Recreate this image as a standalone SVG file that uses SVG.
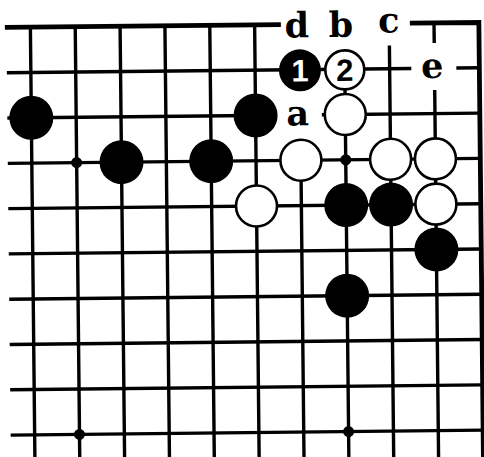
<svg xmlns="http://www.w3.org/2000/svg" width="484" height="457" viewBox="0 0 484 457">
<style>
.g{stroke:#000;stroke-width:3.4;fill:none;stroke-linecap:butt}
.edge{stroke:#000;stroke-width:4.8;fill:none;stroke-linejoin:miter}
.b{fill:#000}
.w{fill:#fff;stroke:#000;stroke-width:2.6}
.hoshi{fill:#000}
.lbl{font-family:"DejaVu Serif","Liberation Serif",serif;font-weight:bold;font-size:35px;fill:#000;text-anchor:middle}
.num{font-family:"Liberation Sans","DejaVu Sans",sans-serif;font-weight:bold;font-size:31px;text-anchor:middle}
</style>
<rect width="484" height="457" fill="#fff"/>
<g transform="rotate(-0.6 240 228)">
<g id="grid-lines">
<path class="edge" d="M7,25 H283 M412,25 H481 V470"/>
<path class="g" d="M32.5,25 V470 M77.35,25 V470 M122.2,25 V470 M167.05,25 V470 M211.9,25 V470 M256.75,25 V470 M301.6,160.9 V470 M346.45,70.3 V470 M391.3,47 V470 M436.15,25 V45 M436.15,92 V470"/>
<path class="g" d="M8.5,70.3 H413 M458,70.3 H481 M8.5,115.6 H278 M323,115.6 H481 M8.5,160.9 H481 M8.5,206.2 H481 M8.5,251.5 H481 M8.5,296.8 H481 M8.5,342.1 H481 M8.5,387.4 H481 M8.5,432.7 H481"/>
<circle class="hoshi" cx="77.35" cy="160.9" r="5.5"/>
<circle class="hoshi" cx="346.45" cy="160.9" r="5.5"/>
<circle class="hoshi" cx="77.35" cy="432.7" r="5.5"/>
<circle class="hoshi" cx="346.45" cy="432.7" r="5.5"/>
</g>
<g id="black-stones">
<g id="b1"><circle class="b" cx="32.5" cy="115.6" r="22"/></g>
<g id="b2"><circle class="b" cx="122.2" cy="160.9" r="22"/></g>
<g id="b3"><circle class="b" cx="211.9" cy="160.9" r="22"/></g>
<g id="b4"><circle class="b" cx="256.75" cy="115.6" r="22"/></g>
<g id="b5"><circle class="b" cx="346.45" cy="206.2" r="22"/></g>
<g id="b6"><circle class="b" cx="391.3" cy="206.2" r="22"/></g>
<g id="b7"><circle class="b" cx="436.15" cy="251.5" r="22"/></g>
<g id="b8"><circle class="b" cx="346.45" cy="296.8" r="22"/></g>
<g id="move1"><circle class="b" cx="301.6" cy="71" r="21"/><text class="num" x="301.6" y="82" fill="#fff">1</text></g>
</g>
<g id="white-stones">
<g id="w1"><circle class="w" cx="346.45" cy="115.6" r="20.5"/></g>
<g id="w2"><circle class="w" cx="301.6" cy="160.9" r="20.5"/></g>
<g id="w3"><circle class="w" cx="391.3" cy="160.9" r="20.5"/></g>
<g id="w4"><circle class="w" cx="436.15" cy="160.9" r="20.5"/></g>
<g id="w5"><circle class="w" cx="256.75" cy="206.2" r="20.5"/></g>
<g id="w6"><circle class="w" cx="436.15" cy="206.2" r="20.5"/></g>
<g id="move2"><circle class="w" cx="346.45" cy="71" r="19.5"/><text class="num" x="346.45" y="82" fill="#000">2</text></g>
</g>
<g id="labels">
<g id="lbl-d"><text class="lbl" x="299" y="38">d</text></g>
<g id="lbl-b"><text class="lbl" x="343" y="38">b</text></g>
<g id="lbl-c"><text class="lbl" x="391" y="34">c</text></g>
<g id="lbl-e"><text class="lbl" x="434" y="80">e</text></g>
<g id="lbl-a"><text class="lbl" x="299" y="126">a</text></g>
</g>
</g>
</svg>
